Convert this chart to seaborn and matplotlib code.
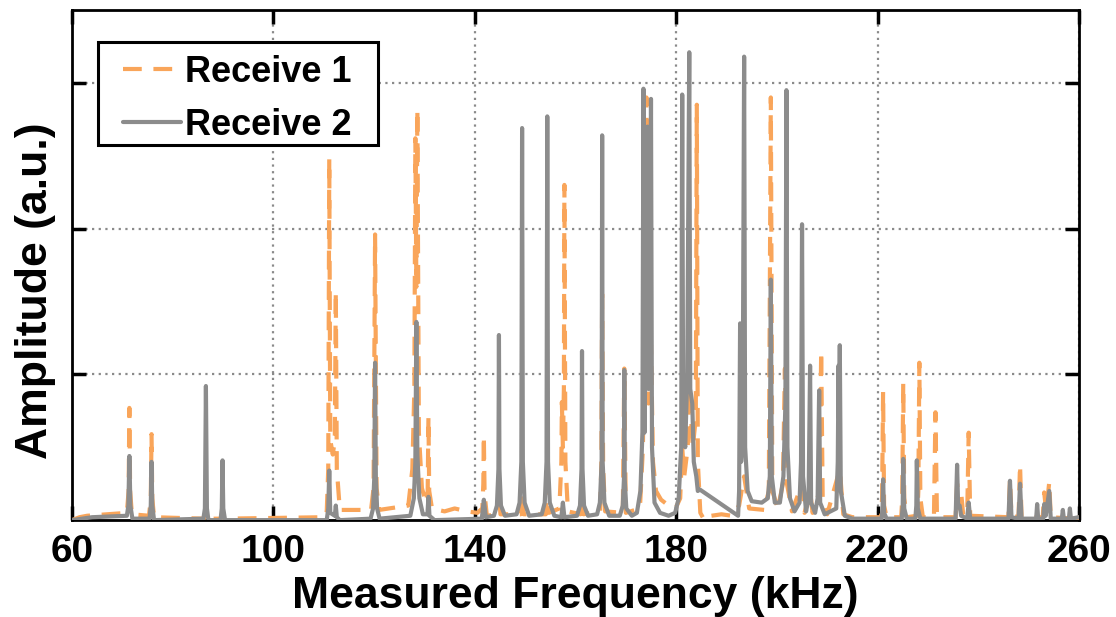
import matplotlib
matplotlib.use("Agg")
import matplotlib.pyplot as plt
from matplotlib.patches import Rectangle
import seaborn as sns
import pandas as pd

# ---- data ----
receive1_points = [
    (60.0, 0.00), (61.5, 0.02), (63.0, 0.03), (70.9, 0.05), (71.25, 0.20), (71.4, 0.77), (71.55, 0.20), (71.9, 0.04),
    (75.3, 0.03), (75.65, 0.15), (75.8, 0.59), (75.95, 0.15), (76.3, 0.02),
    (86.2, 0.01), (86.6, 0.05), (87.0, 0.01), (89.6, 0.01), (89.9, 0.04), (90.2, 0.01),
    (110.0, 0.02), (110.6, 0.06), (110.9, 0.35), (111.1, 2.48), (111.3, 0.55), (111.8, 0.45), (112.2, 0.55),
    (112.4, 1.57), (112.6, 0.35), (113.2, 0.07),
    (119.4, 0.07), (119.9, 0.22), (120.2, 1.96), (120.5, 0.22), (121.0, 0.07),
    (126.8, 0.10), (127.6, 0.35), (128.0, 0.90), (128.2, 2.62), (128.4, 1.60), (128.6, 2.82), (128.9, 0.60),
    (129.5, 0.22), (130.3, 0.12), (130.65, 0.20), (130.8, 0.71), (130.95, 0.20), (131.5, 0.08),
    (134.0, 0.06), (136.0, 0.08), (138.5, 0.06), (140.5, 0.05), (141.5, 0.08), (141.7, 0.25), (141.8, 0.58),
    (141.95, 0.18), (142.4, 0.03),
    (144.5, 0.04), (144.8, 0.20), (145.1, 0.04), (149.1, 0.04), (149.4, 0.30), (149.7, 0.04),
    (154.1, 0.04), (154.4, 0.25), (154.7, 0.05),
    (156.8, 0.08), (157.2, 0.40), (157.3, 0.81), (157.5, 0.50), (157.7, 0.90), (157.8, 2.30), (158.0, 0.40), (158.5, 0.06),
    (161.0, 0.04), (161.3, 0.15), (161.6, 0.04), (164.9, 0.06), (165.15, 0.40), (165.3, 1.55), (165.5, 0.35), (165.9, 0.06),
    (169.4, 0.05), (169.7, 1.04), (170.0, 0.05), (172.8, 0.08), (173.4, 0.50), (174.1, 2.90), (174.5, 0.80),
    (175.0, 1.20), (175.4, 0.40), (176.0, 0.20), (177.0, 0.14), (178.5, 0.10), (180.0, 0.09), (180.8, 0.15),
    (181.2, 0.50), (181.6, 0.30), (182.3, 0.50), (182.6, 0.90), (183.3, 0.50), (183.9, 0.70), (184.1, 2.85),
    (184.3, 0.40), (184.8, 0.05), (185.6, 0.00), (187.0, 0.03), (189.0, 0.04), (191.0, 0.03), (192.5, 0.10),
    (193.5, 0.30), (194.5, 0.08), (197.5, 0.07), (198.4, 0.20), (198.8, 2.90), (199.1, 0.20), (200.2, 0.08),
    (201.2, 0.25), (201.6, 1.04), (202.0, 0.25), (203.0, 0.06), (205.0, 0.25), (205.5, 0.05), (206.6, 0.20),
    (207.1, 0.05), (208.5, 0.20), (208.8, 1.16), (209.1, 0.15), (210.0, 0.04), (212.5, 0.35), (213.2, 0.04),
    (215.0, 0.02), (220.7, 0.02), (220.9, 0.15), (221.1, 0.88), (221.3, 0.10), (221.8, 0.02),
    (224.7, 0.02), (224.9, 0.15), (225.1, 0.94), (225.3, 0.15), (225.8, 0.02),
    (227.9, 0.03), (228.1, 0.20), (228.3, 1.08), (228.5, 0.15), (229.0, 0.02),
    (231.2, 0.02), (231.5, 0.74), (231.8, 0.02), (235.5, 0.02), (235.8, 0.25), (236.2, 0.08), (236.6, 0.19),
    (237.0, 0.04), (237.8, 0.03), (238.1, 0.60), (238.4, 0.03), (246.0, 0.02), (246.3, 0.28), (246.6, 0.03),
    (248.0, 0.02), (248.3, 0.38), (248.6, 0.02), (252.8, 0.02), (253.1, 0.19), (253.5, 0.06), (254.1, 0.26),
    (254.4, 0.02), (259.1, 0.01), (259.4, 0.06), (259.7, 0.01), (260.0, 0.01),
]

receive2_points = [
    (60.0, 0.00), (62.0, 0.01), (64.0, 0.02), (70.9, 0.03), (71.2, 0.10), (71.4, 0.44), (71.6, 0.10), (72.0, 0.01),
    (75.4, 0.01), (75.65, 0.10), (75.8, 0.40), (75.95, 0.10), (76.3, 0.00),
    (86.1, 0.01), (86.4, 0.08), (86.6, 0.92), (86.8, 0.08), (87.1, 0.00),
    (89.5, 0.00), (89.75, 0.08), (89.9, 0.41), (90.05, 0.08), (90.4, 0.00),
    (110.6, 0.00), (110.9, 0.08), (111.1, 0.34), (111.3, 0.05), (112.2, 0.03), (112.4, 0.10), (112.6, 0.02), (113.2, 0.00),
    (119.3, 0.01), (119.8, 0.08), (120.05, 0.30), (120.2, 1.08), (120.35, 0.30), (120.6, 0.08), (121.1, 0.01),
    (127.2, 0.03), (127.9, 0.15), (128.2, 0.40), (128.4, 1.36), (128.6, 0.45), (129.0, 0.15), (129.7, 0.04),
    (130.6, 0.04), (130.8, 0.16), (131.0, 0.03), (132.0, 0.00), (141.4, 0.01), (141.8, 0.14), (142.2, 0.02),
    (143.8, 0.03), (144.4, 0.10), (144.7, 0.35), (144.8, 1.27), (144.9, 0.35), (145.2, 0.10), (146.0, 0.03),
    (148.3, 0.04), (148.9, 0.12), (149.25, 0.40), (149.4, 2.69), (149.55, 0.40), (149.9, 0.12), (150.8, 0.03),
    (153.3, 0.04), (153.9, 0.12), (154.25, 0.40), (154.4, 2.77), (154.55, 0.40), (154.9, 0.12), (155.8, 0.03),
    (157.2, 0.02), (157.5, 0.12), (157.8, 0.02),
    (160.3, 0.03), (160.9, 0.10), (161.2, 0.35), (161.3, 1.16), (161.4, 0.35), (161.7, 0.10), (162.5, 0.03),
    (164.3, 0.04), (164.85, 0.12), (165.2, 0.40), (165.3, 2.64), (165.4, 0.40), (165.75, 0.12), (166.7, 0.03),
    (168.8, 0.03), (169.4, 0.10), (169.65, 0.30), (169.7, 1.03), (169.75, 0.30), (170.1, 0.08), (171.2, 0.03),
    (172.2, 0.05), (172.9, 0.20), (173.3, 0.60), (173.5, 2.96), (173.7, 0.60), (174.0, 1.40), (174.3, 2.70),
    (174.5, 0.90), (174.8, 1.00), (175.0, 2.89), (175.2, 0.50), (175.7, 0.12), (176.8, 0.05), (178.5, 0.03),
    (179.8, 0.05), (180.5, 0.15), (181.0, 0.50), (181.2, 2.92), (181.4, 0.60), (181.8, 0.50), (182.2, 1.00),
    (182.6, 3.21), (182.8, 0.90), (183.2, 0.80), (183.5, 0.40), (184.0, 0.30), (184.3, 0.20), (184.7, 0.21),
    (192.3, 0.03), (192.5, 0.20), (192.7, 1.35), (192.9, 0.40), (193.2, 0.60), (193.5, 3.18), (193.7, 0.50),
    (194.2, 0.20), (195.0, 0.13), (197.0, 0.12), (198.2, 0.15), (198.6, 0.30), (198.8, 1.65), (199.0, 0.30),
    (199.6, 0.12), (200.6, 0.12), (201.3, 0.30), (201.7, 0.80), (201.9, 2.95), (202.1, 0.50), (202.6, 0.15),
    (203.5, 0.06), (204.5, 0.12), (204.8, 0.40), (205.0, 2.03), (205.2, 0.30), (205.8, 0.06), (206.3, 0.15),
    (206.6, 1.06), (206.8, 0.12), (207.6, 0.05), (208.1, 0.15), (208.4, 0.89), (208.6, 0.12), (209.5, 0.04),
    (211.8, 0.08), (212.1, 0.40), (212.25, 1.06), (212.35, 0.70), (212.5, 1.20), (212.7, 0.20), (213.5, 0.03),
    (215.0, 0.01), (220.8, 0.01), (221.0, 0.08), (221.1, 0.28), (221.3, 0.05), (221.8, 0.01),
    (224.8, 0.01), (225.0, 0.10), (225.1, 0.42), (225.3, 0.08), (225.8, 0.01),
    (227.5, 0.01), (227.7, 0.10), (227.8, 0.41), (228.0, 0.08), (228.5, 0.01),
    (235.5, 0.01), (235.8, 0.38), (236.0, 0.10), (236.3, 0.10), (236.6, 0.03), (237.8, 0.01), (238.1, 0.12),
    (238.4, 0.01), (246.0, 0.01), (246.3, 0.27), (246.6, 0.02), (248.0, 0.01), (248.3, 0.25), (248.6, 0.01),
    (251.5, 0.01), (251.7, 0.11), (251.9, 0.01), (252.9, 0.01), (253.1, 0.11), (253.4, 0.03), (254.1, 0.20),
    (254.4, 0.01), (256.6, 0.01), (256.8, 0.07), (257.0, 0.01), (258.0, 0.01), (258.2, 0.08), (258.4, 0.01),
    (260.0, 0.02),
]

series_names = ["Receive 1", "Receive 2"]
x_ticks = [60, 100, 140, 180, 220, 260]
y_grid = [1, 2, 3]

# ---- style ----
sns.set_theme(style="white")
plt.rcParams["font.family"] = ["Liberation Sans", "DejaVu Sans"]
plt.rcParams["font.weight"] = "bold"
plt.rcParams["text.color"] = "black"
plt.rcParams["axes.labelcolor"] = "black"
plt.rcParams["xtick.color"] = "black"
plt.rcParams["ytick.color"] = "black"

fig = plt.figure(figsize=(11.16, 6.17), dpi=100)
ax = fig.add_axes([0.0645, 0.157, 0.9023, 0.8268])

df1 = pd.DataFrame(receive1_points, columns=["f", "a"])
df2 = pd.DataFrame(receive2_points, columns=["f", "a"])

orange = "#F9A55A"
gray = "#8C8C8C"

sns.lineplot(data=df1, x="f", y="a", ax=ax, color=orange, lw=3.0, estimator=None, sort=False,
             linestyle=(0, (4.5, 2.8)), label=series_names[0], zorder=3)
sns.lineplot(data=df2, x="f", y="a", ax=ax, color=gray, lw=3.0, estimator=None, sort=False,
             label=series_names[1], zorder=4)

ax.set_xlim(60, 260)
ax.set_ylim(0, 3.5)
ax.set_xticks(x_ticks)
ax.set_xticklabels([str(t) for t in x_ticks])
ax.set_yticks(y_grid)
ax.set_yticklabels([])

ax.grid(True, which="major", linestyle=(0, (1, 2)), color="#8a8a8a", linewidth=1.6, zorder=1)
ax.set_axisbelow(True)

ax.tick_params(axis="both", direction="in", length=10, width=2.5, top=True, right=True,
               bottom=True, left=True, color="black", labelcolor="black")
ax.tick_params(axis="x", labelsize=28, pad=10)
for lab in ax.get_xticklabels():
    lab.set_fontweight("bold")
    lab.set_color("black")

for sp in ax.spines.values():
    sp.set_visible(True)
    sp.set_color("black")
    sp.set_linewidth(2.0)

ax.set_xlabel("Measured Frequency (kHz)", fontsize=32, fontweight="bold", labelpad=4, color="black")
ax.set_ylabel("Amplitude (a.u.)", fontsize=32, fontweight="bold", color="black")
ax.yaxis.set_label_coords(-0.016, 0.45)

# legend box (frame drawn as a separate rectangle to get the wide side padding)
box = Rectangle((0.0258, 0.735), 0.2781, 0.202, transform=ax.transAxes, facecolor="white",
                edgecolor="black", linewidth=2.2, zorder=4.6)
ax.add_patch(box)
leg = ax.legend(loc="center left", bbox_to_anchor=(0.051, 0.8255), borderaxespad=0, borderpad=0,
                prop={"size": 26, "weight": "bold"}, frameon=False,
                handlelength=1.6, handletextpad=0.1, labelspacing=0.5)
leg.set_zorder(5)
for t in leg.get_texts():
    t.set_color("black")

fig.savefig("out.png", dpi=100)
